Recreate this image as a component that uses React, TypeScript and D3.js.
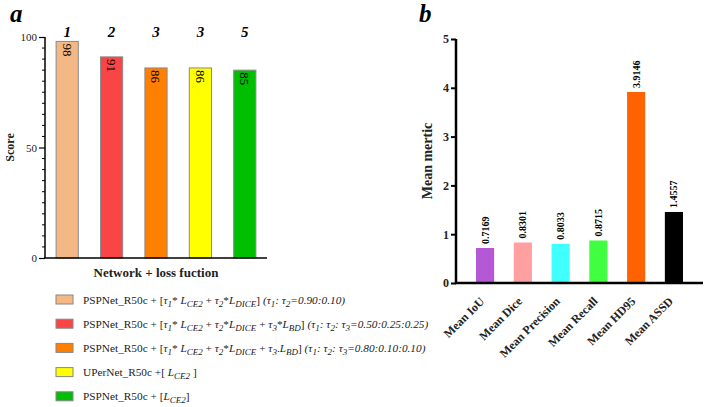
import React, { useRef, useEffect } from 'react';
import * as d3 from 'd3';

// panel a: overall score per network + loss
const methods = ['m1', 'm2', 'm3', 'm4', 'm5'];
const scores = [98, 91, 86, 86, 85];
const ranks = ['1', '2', '3', '3', '5'];
const methodColors = ['#F3B883', '#F94545', '#FF7F00', '#FFFF00', '#00BE00'];
const scoreTicks = [0, 50, 100];

// panel b: mean metrics
const metrics = ['Mean IoU', 'Mean Dice', 'Mean Precision', 'Mean Recall', 'Mean HD95', 'Mean ASSD'];
const metricValues = [0.7169, 0.8301, 0.8033, 0.8715, 3.9146, 1.4557];
const metricLabels = ['0.7169', '0.8301', '0.8033', '0.8715', '3.9146', '1.4557'];
const metricColors = ['#B558D6', '#FFA0A0', '#40FFFF', '#40FF40', '#FF6200', '#000000'];
const metricTicks = [0, 1, 2, 3, 4, 5];

// legend rows: [text, style]  style: '' normal, 'i' italic, 's' italic subscript
type Seg = [string, string];
const legendRows: Seg[][] = [
  [['PSPNet_R50c + [', ''], ['τ', 'i'], ['1', 's'], ['* ', ''], ['L', 'i'], ['CE2', 's'], [' +  ', ''], ['τ', 'i'], ['2', 's'], ['*', ''], ['L', 'i'], ['DICE', 's'], ['] ', ''], ['(τ', 'i'], ['1', 's'], [': τ', 'i'], ['2', 's'], ['=0.90:0.10)', 'i']],
  [['PSPNet_R50c + [', ''], ['τ', 'i'], ['1', 's'], ['* ', ''], ['L', 'i'], ['CE2', 's'], [' + ', ''], ['τ', 'i'], ['2', 's'], ['*', ''], ['L', 'i'], ['DICE', 's'], [' + ', ''], ['τ', 'i'], ['3', 's'], ['*', ''], ['L', 'i'], ['BD', 's'], ['] ', ''], ['(τ', 'i'], ['1', 's'], [': τ', 'i'], ['2', 's'], [': τ', 'i'], ['3', 's'], ['=0.50:0.25:0.25)', 'i']],
  [['PSPNet_R50c +  [', ''], ['τ', 'i'], ['1', 's'], ['* ', ''], ['L', 'i'], ['CE2', 's'], [' + ', ''], ['τ', 'i'], ['2', 's'], ['*', ''], ['L', 'i'], ['DICE', 's'], [' + ', ''], ['τ', 'i'], ['3', 's'], ['.', ''], ['L', 'i'], ['BD', 's'], ['] ', ''], ['(τ', 'i'], ['1', 's'], [': τ', 'i'], ['2', 's'], [': τ', 'i'], ['3', 's'], ['=0.80:0.10:0.10)', 'i']],
  [['UPerNet_R50c +[ ', ''], ['L', 'i'], ['CE2', 's'], [' ]', '']],
  [['PSPNet_R50c + [', ''], ['L', 'i'], ['CE2', 's'], [']', '']],
];

const FONT = '"Liberation Serif", serif';

const App = () => {
  const ref = useRef<SVGSVGElement>(null);

  useEffect(() => {
    const svg = d3.select(ref.current)
      .attr('width', 708)
      .attr('height', 407)
      .attr('font-family', FONT)
      .style('background-color', 'white');

    svg.selectAll('*').remove();

    // ---------- panel a ----------
    const xA = d3.scaleBand().domain(methods).range([45, 267]).paddingInner(0.5).paddingOuter(0.25);
    const yA = d3.scaleLinear().domain([0, 100]).range([258, 37]);
    const a = svg.append('g');

    a.append('text').attr('x', 10).attr('y', 22).text('a')
      .style('font-size', '25px').style('font-weight', 'bold').style('font-style', 'italic');

    a.selectAll('rect.bar').data(scores).enter().append('rect')
      .attr('x', (d, i) => xA(methods[i])!)
      .attr('y', d => yA(d))
      .attr('width', xA.bandwidth())
      .attr('height', d => yA(0) - yA(d))
      .style('fill', (d, i) => methodColors[i])
      .style('stroke', '#8a8a8a')
      .style('stroke-width', 1);

    // value inside bar, rotated
    a.selectAll('text.val').data(scores).enter().append('text')
      .attr('transform', (d, i) => `translate(${xA(methods[i])! + xA.bandwidth() / 2},${yA(d) + 2}) rotate(90)`)
      .attr('dy', '0.35em')
      .style('font-size', '13px')
      .text(d => d);

    a.selectAll('text.rank').data(ranks).enter().append('text')
      .attr('x', (d, i) => xA(methods[i])! + xA.bandwidth() / 2)
      .attr('y', 37)
      .attr('text-anchor', 'middle')
      .style('font-size', '15px').style('font-weight', 'bold').style('font-style', 'italic')
      .text(d => d);

    const yAxisA = a.append('g').attr('transform', 'translate(45,0)')
      .call(d3.axisLeft(yA).tickValues(scoreTicks).tickSize(6).tickPadding(2));
    yAxisA.select('.domain').attr('d', `M0,${yA(100)}V${yA(0)}`).style('stroke-width', 1.5);
    yAxisA.selectAll('text').attr('font-family', FONT).style('font-size', '11px').style('fill', '#222');
    yAxisA.selectAll('line').style('stroke-width', 1.2);
    yAxisA.selectAll('line.minor').data(d3.range(5, 100, 5).filter(v => v % 50 !== 0)).enter()
      .append('line').attr('class', 'minor')
      .attr('x1', -3).attr('x2', 0)
      .attr('y1', d => yA(d)).attr('y2', d => yA(d))
      .style('stroke', 'black').style('stroke-width', 1);

    a.append('line').attr('x1', 44).attr('x2', 267).attr('y1', yA(0)).attr('y2', yA(0))
      .style('stroke', 'black').style('stroke-width', 1.5);

    a.append('text').attr('x', 156).attr('y', 277).attr('text-anchor', 'middle')
      .style('font-size', '13px').style('font-weight', 'bold').style('fill', '#222')
      .text('Network + loss fuction');

    a.append('text').attr('transform', `translate(14,${yA(50)}) rotate(-90)`).attr('text-anchor', 'middle')
      .style('font-size', '12px').style('font-weight', 'bold').style('fill', '#222')
      .text('Score');

    // legend
    const legend = a.append('g');
    legendRows.forEach((row, i) => {
      const cy = 299.5 + i * 24.2;
      legend.append('rect').attr('x', 56).attr('y', cy - 4.5).attr('width', 17).attr('height', 9)
        .style('fill', methodColors[i]).style('stroke', '#888').style('stroke-width', 1);
      const t = legend.append('text').attr('x', 83).attr('y', cy + 4)
        .style('font-size', '11.3px').style('fill', '#222');
      let shifted = false;
      row.forEach(([txt, st]) => {
        const ts = t.append('tspan').text(txt);
        if (st === 's') {
          ts.style('font-style', 'italic').style('font-size', '9px');
          if (!shifted) ts.attr('dy', 3);
          shifted = true;
        } else {
          if (st === 'i') ts.style('font-style', 'italic');
          if (shifted) ts.attr('dy', -3);
          shifted = false;
        }
      });
    });

    // ---------- panel b ----------
    const xB = d3.scaleBand().domain(metrics).range([456, 703]).paddingInner(0.52).paddingOuter(0.53);
    const yB = d3.scaleLinear().domain([0, 5]).range([283, 39]);
    const b = svg.append('g');

    b.append('text').attr('x', 419).attr('y', 22).text('b')
      .style('font-size', '25px').style('font-weight', 'bold').style('font-style', 'italic');

    b.selectAll('rect.bar').data(metricValues).enter().append('rect')
      .attr('x', (d, i) => xB(metrics[i])!)
      .attr('y', d => yB(d))
      .attr('width', xB.bandwidth())
      .attr('height', d => yB(0) - yB(d))
      .style('fill', (d, i) => metricColors[i]);

    b.selectAll('text.val').data(metricValues).enter().append('text')
      .attr('transform', (d, i) => `translate(${xB(metrics[i])! + xB.bandwidth() / 2},${yB(d) - 4}) rotate(-90)`)
      .attr('dy', '0.35em')
      .style('font-size', '10px').style('font-weight', 'bold')
      .text((d, i) => metricLabels[i]);

    const yAxisB = b.append('g').attr('transform', 'translate(456,0)')
      .call(d3.axisLeft(yB).tickValues(metricTicks).tickFormat(d3.format('d')).tickSize(5).tickPadding(2));
    yAxisB.select('.domain').attr('d', `M0,${yB(5)}V${yB(0)}`).style('stroke-width', 2.5);
    yAxisB.selectAll('line').style('stroke-width', 2);
    yAxisB.selectAll('text').attr('font-family', FONT).style('font-size', '12px')
      .style('font-weight', 'bold').style('fill', '#222');

    b.append('line').attr('x1', 455).attr('x2', 703).attr('y1', yB(0)).attr('y2', yB(0))
      .style('stroke', 'black').style('stroke-width', 2.5);

    b.selectAll('text.cat').data(metrics).enter().append('text')
      .attr('transform', (d) => `translate(${xB(d)! + xB.bandwidth() / 2},${yB(0) + 19}) rotate(-45)`)
      .attr('text-anchor', 'end')
      .style('font-size', '12px').style('font-weight', 'bold').style('fill', '#222')
      .text(d => d);

    b.append('text').attr('transform', `translate(432,${yB(2.5)}) rotate(-90)`).attr('text-anchor', 'middle')
      .style('font-size', '14px').style('font-weight', 'bold').style('fill', '#222')
      .text('Mean mertic');
  }, []);

  return (
    <div style={{ position: 'absolute', left: 0, top: 0 }}>
      <svg ref={ref}></svg>
    </div>
  );
};

export default App;
